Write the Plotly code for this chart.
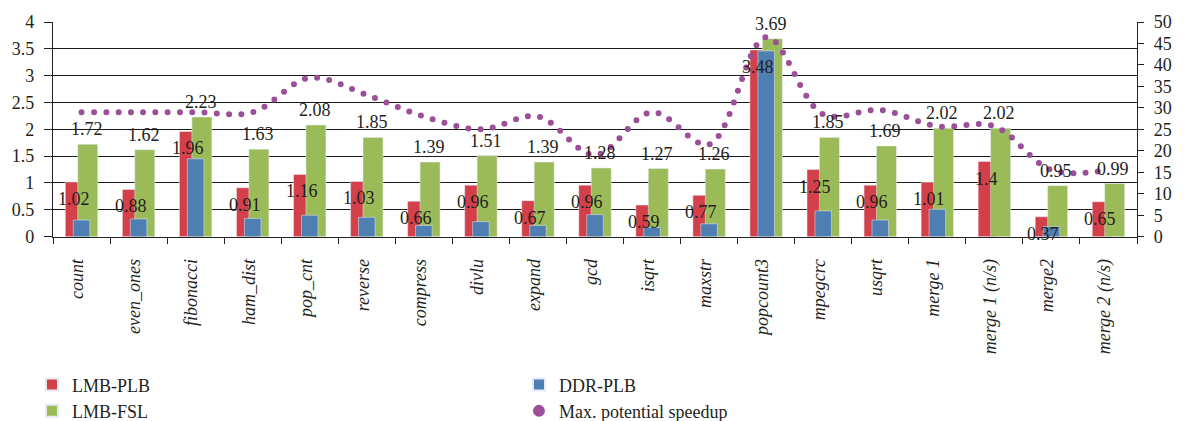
import plotly.graph_objects as go

# Benchmarks along the x axis
benchmarks = ["count", "even_ones", "fibonacci", "ham_dist", "pop_cnt", "reverse",
              "compress", "divlu", "expand", "gcd", "isqrt", "maxstr", "popcount3",
              "mpegcrc", "usqrt", "merge 1", "merge 1 (n/s)", "merge2", "merge 2 (n/s)"]

# Speedups (left axis)
lmb_plb = [1.02, 0.88, 1.96, 0.91, 1.16, 1.03, 0.66, 0.96, 0.67, 0.96, 0.59, 0.77,
           3.48, 1.25, 0.96, 1.01, 1.40, 0.37, 0.65]
ddr_plb = [0.31, 0.33, 1.45, 0.34, 0.40, 0.36, 0.21, 0.28, 0.21, 0.41, 0.17, 0.24,
           3.46, 0.48, 0.31, 0.51, None, 0.19, None]
lmb_fsl = [1.72, 1.62, 2.23, 1.63, 2.08, 1.85, 1.39, 1.51, 1.39, 1.28, 1.27, 1.26,
           3.69, 1.85, 1.69, 2.02, 2.02, 0.95, 0.99]

# Maximum potential speedup (right axis)
max_speedup = [29, 29, 29, 29, 37, 33, 28, 25, 28, 19, 29, 21.5, 46.5, 28.5, 29.5,
               25.7, 25.7, 15.5, 15.5]

left_ticks = [0, 0.5, 1, 1.5, 2, 2.5, 3, 3.5, 4]
right_ticks = [0, 5, 10, 15, 20, 25, 30, 35, 40, 45, 50]

RED = "#d3404a"
GREEN = "#9bbb59"
BLUE = "#4f7eb3"
PURPLE = "#9a4f98"
INK = "#231f20"
FONT = "Liberation Serif, Times New Roman, serif"

fig = go.Figure()

fig.add_trace(go.Bar(x=benchmarks, y=lmb_plb, name="LMB-PLB", marker_color=RED,
                     offset=-0.284, width=0.35, legendrank=1))
fig.add_trace(go.Bar(x=benchmarks, y=lmb_fsl, name="LMB-FSL", marker_color=GREEN,
                     offset=-0.066, width=0.35, legendrank=3))
fig.add_trace(go.Bar(x=benchmarks, y=ddr_plb, name="DDR-PLB", marker_color=BLUE,
                     offset=-0.145, width=0.29, legendrank=2))

fig.add_trace(go.Scatter(x=benchmarks, y=max_speedup, yaxis="y2", mode="lines",
                         line=dict(color=PURPLE, width=6, shape="spline",
                                   smoothing=1.0, dash="0px,12.3px"),
                         showlegend=False, legendgroup="max", hoverinfo="y"))
# legend entry for the dotted series
fig.add_trace(go.Scatter(x=[None], y=[None], yaxis="y2", mode="markers",
                         marker=dict(color=PURPLE, size=12),
                         name="Max. potential speedup", legendgroup="max",
                         legendrank=4))

annotations = []
for b, v in zip(benchmarks, lmb_plb):
    annotations.append(dict(x=b, y=v, text=f"{v:g}", showarrow=False,
                            xshift=-8, yshift=-17, yanchor="middle",
                            font=dict(size=18, color=INK, family=FONT)))
for b, v in zip(benchmarks, lmb_fsl):
    annotations.append(dict(x=b, y=v, text=f"{v:g}", showarrow=False,
                            xshift=5, yshift=15, yanchor="middle",
                            font=dict(size=18, color=INK, family=FONT)))

fig.update_layout(
    width=1184, height=421,
    margin=dict(l=49, r=38, t=18, b=183),
    paper_bgcolor="white", plot_bgcolor="white",
    barmode="overlay",
    font=dict(family=FONT, size=18, color=INK),
    annotations=annotations,
    xaxis=dict(type="category", tickson="boundaries", ticks="outside", ticklen=6,
               tickcolor="#222", showline=True, linecolor="#222", linewidth=1.2,
               tickangle=-90, tickfont=dict(size=18, style="italic"),
               ticklabelstandoff=14, ticklabelshift=-4, showgrid=False,
               range=[-0.5, 18.5]),
    yaxis=dict(range=[0, 4], tickvals=left_ticks, ticktext=[f"{t:g}" for t in left_ticks],
               showgrid=True, gridcolor="#1a1a1a", gridwidth=1.2, zeroline=False,
               showline=True, linecolor="#222", linewidth=1.2, ticks="outside",
               ticklen=8, tickcolor="#222", ticklabelstandoff=6),
    yaxis2=dict(range=[0, 50], tickvals=right_ticks, overlaying="y", side="right",
                showgrid=False, zeroline=False, showline=True, linecolor="#222",
                linewidth=1.2, ticks="outside", ticklen=6, tickcolor="#222",
                ticklabelstandoff=6),
    showlegend=True,
    legend=dict(orientation="h", xref="container", yref="container",
                x=0.027, y=0.13, xanchor="left", yanchor="top",
                entrywidth=442, entrywidthmode="pixels",
                font=dict(size=18, color=INK), bgcolor="rgba(0,0,0,0)",
                traceorder="normal", itemsizing="constant"),
)

round_caps = """
document.querySelectorAll('.scatterlayer .js-line').forEach(function(p){
    p.style.strokeLinecap = 'round';
});
"""

fig.write_html("out.html", post_script=round_caps)
